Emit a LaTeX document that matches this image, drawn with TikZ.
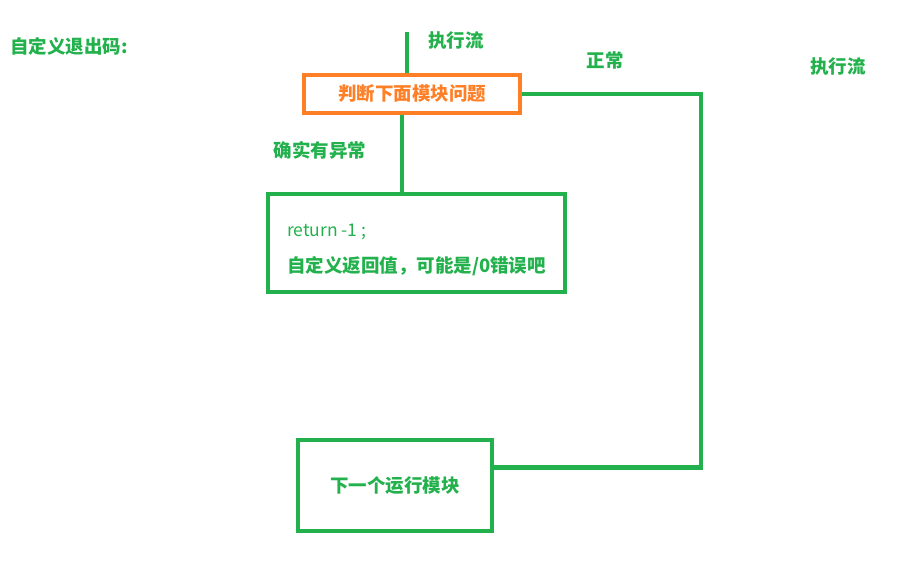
\documentclass[tikz,border=0pt]{standalone}
\usepackage{fontspec}
\setmainfont{Noto Sans CJK SC}
\usetikzlibrary{
  positioning,
  calc,
}
\definecolor{flowGreen}{HTML}{22B14C}
\definecolor{checkOrange}{HTML}{FF7F27}
\tikzset{
  every node/.style={
    font=\bfseries,
    inner sep=0pt,
  },
  label/.style={
    font=\fontsize{18.5}{22}\selectfont\bfseries,
    text=flowGreen,
  },
  checkbox/.style={
    rectangle,
    draw=checkOrange, line width=4.5pt,
    text=checkOrange,
    font=\fontsize{18.5}{22}\selectfont\bfseries,
  },
  blockbox/.style={
    rectangle,
    draw=flowGreen, line width=4.5pt,
    text=flowGreen,
    font=\fontsize{18.5}{22}\selectfont\bfseries,
  },
  flow/.style={
    draw=flowGreen, line width=4.5pt,
  },
}
\begin{document}
\begin{tikzpicture}[x=1pt, y=-1pt]

% ============================================
% Canvas: 906 x 577, origin top-left, y down
% ============================================
\useasboundingbox (0,0) rectangle (906,577);

% ----- Labels -----
\node[label, anchor=west] (title)  at ( 10, 46) {自定义退出码:};
\node[label]              (flowA)  at (456, 41) {执行流};
\node[label]              (normal) at (605, 60) {正常};
\node[label]              (flowB)  at (838, 67) {执行流};
\node[label]              (except) at (320,150) {确实有异常};

% ----- Boxes -----
\node[checkbox, minimum width=216, minimum height=38] (judge) at (412, 94)
  {判断下面模块问题};
\node[blockbox, minimum width=297, minimum height=98, align=left] (error) at (416.5, 243)
  {{\rule{0pt}{26pt}\fontsize{17.5}{20}\selectfont\mdseries return -1 ;}\\[14pt]
   自定义返回值，可能是/0错误吧};
\node[blockbox, minimum width=194, minimum height=91] (next) at (395, 485.5)
  {下一个运行模块};

% ----- Connectors -----
\coordinate (entry)  at (407, 32);
\coordinate (corner) at (701, 94);

\draw[flow] (entry) -- (entry |- judge.north);
\draw[flow] ($(judge.south) + (-10, 0)$) -- ($(judge.south |- error.north) + (-10, 0)$);
% normal path: right, down, back left into the next block
\draw[flow] (judge.east) -- (corner) -- ($(corner |- next.east) + (0, -18)$)
  -- ($(next.east) + (0, -18)$);

\end{tikzpicture}
\end{document}
